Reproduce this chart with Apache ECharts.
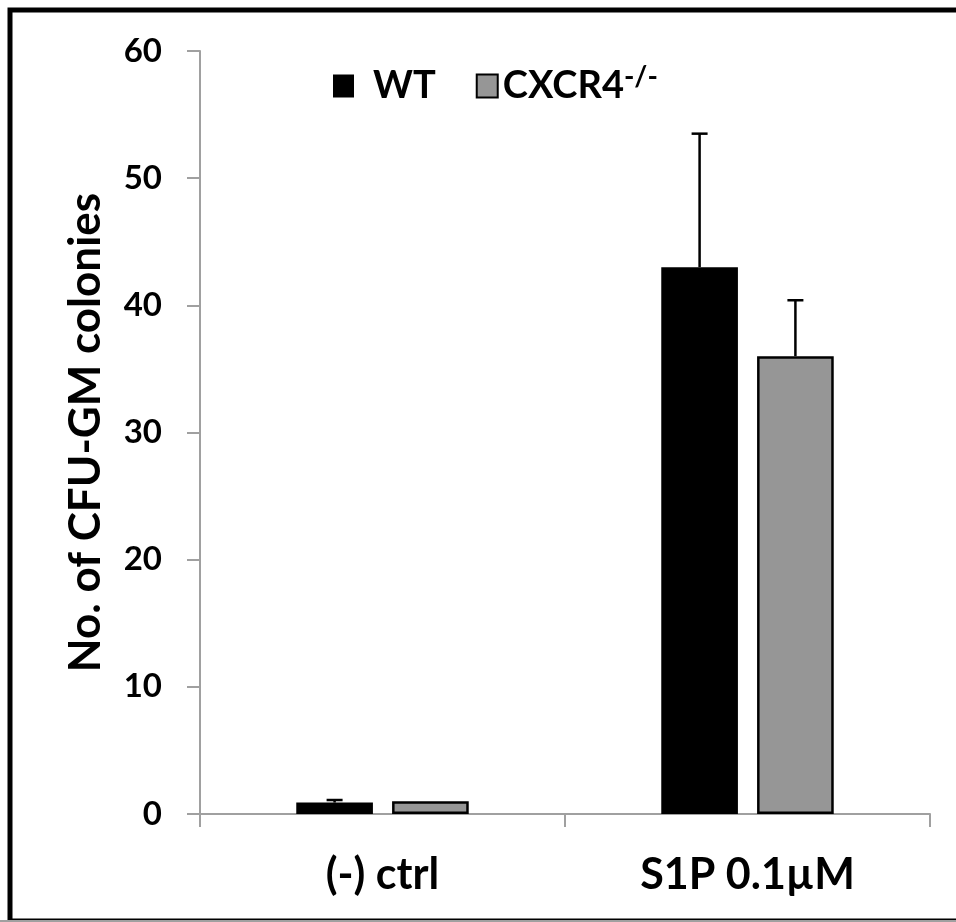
<!DOCTYPE html>
<html><head><meta charset="utf-8">
<script src="https://cdn.jsdelivr.net/npm/echarts@6/dist/echarts.min.js"></script>
<style>html,body{margin:0;padding:0;background:#fff}#c{width:956px;height:922px}</style>
</head><body><div id="c"></div>
<script>
var categories = ['(-) ctrl', 'S1P 0.1\u00b5M'];
var wtValues = [0.9, 43.0];
var wtErrors = [0.2, 10.5];
var koValues = [1.0, 36.0];
var koErrors = [0.0, 4.4];
var yTicks = [0, 10, 20, 30, 40, 50, 60];
var seriesNames = ['WT', 'CXCR4'];

var FONT = 'Lato';
var BAR_W = 0.21, BAR_GAP = 0.25;

function errSeries(values, errors, sign) {
  return {
    type: 'custom',
    z: 5,
    silent: true,
    data: values.map(function (v, i) { return [i, v, errors[i]]; }),
    renderItem: function (params, api) {
      var i = api.value(0), v = api.value(1), e = api.value(2);
      if (!(e > 0)) return null;
      var band = api.size([1, 0])[0];
      var bw = band * BAR_W;
      var off = sign * (bw + bw * BAR_GAP) / 2;
      var p0 = api.coord([i, v]);
      var p1 = api.coord([i, v + e]);
      var x = p0[0] + off;
      var style = { stroke: '#000', lineWidth: 2.5 };
      return {
        type: 'group',
        children: [
          { type: 'line', shape: { x1: x, y1: p0[1], x2: x, y2: p1[1] }, style: style },
          { type: 'line', shape: { x1: x - 8, y1: p1[1], x2: x + 8, y2: p1[1] }, style: style }
        ]
      };
    }
  };
}

var chart = echarts.init(document.getElementById('c'));
chart.setOption({
  animation: false,
  backgroundColor: '#fff',
  graphic: [
    { type: 'rect', shape: { x: 10, y: 10, width: 1000, height: 911 }, style: { fill: 'none', stroke: '#000', lineWidth: 5 }, z: 100 },
    { type: 'line', shape: { x1: 0, y1: 921, x2: 956, y2: 921 }, style: { stroke: '#a0a0a0', lineWidth: 2 }, z: 101 }
  ],
  grid: { left: 200, right: 26, top: 51, bottom: 108, containLabel: false },
  legend: {
    left: 333, top: 63, padding: 0,
    itemWidth: 21, itemHeight: 23, itemGap: 40,
    icon: 'rect',
    textStyle: { fontFamily: FONT, fontWeight: 'bold', fontSize: 38, color: '#000',
      rich: {
        w: { fontFamily: FONT, fontWeight: 'bold', fontSize: 38, color: '#000', padding: [0, 0, 0, 14] },
        a: { fontFamily: FONT, fontWeight: 'bold', fontSize: 38, color: '#000' },
        s: { fontFamily: FONT, fontWeight: 'bold', fontSize: 28, color: '#000', verticalAlign: 'top', padding: [0, 0, 18, 0] }
      }
    },
    formatter: function (n) { return n === 'CXCR4' ? '{a|CXCR4}{s|-/-}' : '{w|' + n + '}'; },
    data: [
      { name: seriesNames[0], itemStyle: { color: '#000', borderColor: '#000', borderWidth: 0 } },
      { name: seriesNames[1], itemStyle: { color: '#969696', borderColor: '#000', borderWidth: 2 } }
    ]
  },
  xAxis: {
    type: 'category',
    data: categories,
    axisLine: { lineStyle: { color: '#a0a0a0', width: 2 } },
    axisTick: { show: true, length: 13, lineStyle: { color: '#a0a0a0', width: 2 } },
    axisLabel: { fontFamily: FONT, fontWeight: 'bold', fontSize: 43, color: '#000', margin: 40 }
  },
  yAxis: {
    type: 'value',
    min: yTicks[0], max: yTicks[yTicks.length - 1], interval: 10,
    name: 'No. of CFU-GM colonies',
    nameLocation: 'middle',
    nameGap: 92,
    nameTextStyle: { fontFamily: FONT, fontWeight: 'bold', fontSize: 44, color: '#000' },
    splitLine: { show: false },
    axisLine: { show: true, lineStyle: { color: '#a0a0a0', width: 2 } },
    axisTick: { show: true, length: 13, lineStyle: { color: '#a0a0a0', width: 2 } },
    axisLabel: { fontFamily: FONT, fontWeight: 'bold', fontSize: 33, color: '#000', margin: 38 }
  },
  series: [
    { name: seriesNames[0], type: 'bar', data: wtValues, barWidth: (BAR_W * 100) + '%', barGap: (BAR_GAP * 100) + '%',
      itemStyle: { color: '#000', borderColor: '#000', borderWidth: 2 } },
    { name: seriesNames[1], type: 'bar', data: koValues, barWidth: (BAR_W * 100) + '%',
      itemStyle: { color: '#969696', borderColor: '#000', borderWidth: 2.5 } },
    errSeries(wtValues, wtErrors, -1),
    errSeries(koValues, koErrors, 1)
  ]
});
</script></body></html>
